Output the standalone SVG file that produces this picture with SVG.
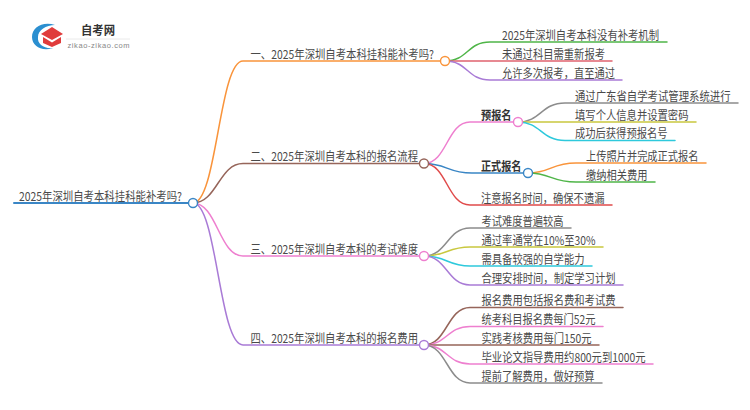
<svg xmlns="http://www.w3.org/2000/svg" width="750" height="410" viewBox="0 0 750 410">
<style>
text{font-family:"Noto Sans CJK SC","Liberation Sans",sans-serif;font-size:12.2px;fill:#4a4a4a}
.b{font-weight:700;fill:#333}
#connectors path{fill:none;stroke-width:1.5;stroke-linecap:round}
circle{fill:#fff;stroke-width:1.4}
.or{stroke:#f9943b}.br{stroke:#96655a}.pk{stroke:#ee7fcf}.pu{stroke:#a97bd6}.gn{stroke:#4fb548}.rd{stroke:#e0636f}.re{stroke:#e04b4b}.gy{stroke:#8c8c8c}.ol{stroke:#c9c83f}.cy{stroke:#2ec9dc}.bl{stroke:#3a86c5}
</style>
<g id="logo">
<path d="M55,25 C42,21 32,28 32,37 C32,46 42,52 53,48 C44,49 37,44 38,37 C38,30 46,25 55,25Z" fill="#2b8fd0"/>
<path d="M41,34 L52,27 L63,34 L52,40Z" fill="#e03c3c"/>
<path d="M43,37 L52,42.500 L61,37 L61,43 L52,47 L43,43Z" fill="#e03c3c"/>
<text x="81" y="35" class="b" style="font-size:12px" textLength="34" lengthAdjust="spacingAndGlyphs">自考网</text>
<path d="M66,39H130" stroke="#e4e4e4" stroke-width="0.8" fill="none"/>
<text x="67.500" y="48" style="font-size:7.500px;fill:#888;font-family:'Liberation Sans',sans-serif" textLength="62" lengthAdjust="spacing">zikao-zikao.com</text>
</g>
<g id="connectors">
<path class="bl" style="stroke-width:2" d="M14,203H193"/>
<path class="or" d="M193,203C217,203 219,61 243,61H445"/>
<path class="br" d="M193,203C217,203 219,163.500 243,163.500H424"/>
<path class="pk" d="M193,203C217,203 219,256 243,256H424"/>
<path class="pu" d="M193,203C217,203 219,345 243,345H424"/>
<path class="gn" d="M445,61C468,61 467,42 490,42H667"/>
<path class="rd" d="M445,61H612"/>
<path class="pu" d="M445,61C468,61 467,80 490,80H622"/>
<path class="pk" d="M424,163.500C447,163.500 447,122 470,122H518"/>
<path class="bl" d="M424,163.500C447,163.500 447,173 472,173H528"/>
<path class="re" d="M424,163.500C447,163.500 447,205 470,205H612"/>
<path class="gy" d="M518,122C541,122 541,103 565,103H738"/>
<path class="ol" d="M518,122H696"/>
<path class="cy" d="M518,122C541,122 541,140.500 565,140.500H675"/>
<path class="or" d="M528,173C551,173 551,163 576,163H706"/>
<path class="gn" d="M528,173C551,173 551,182 576,182H655"/>
<path class="gy" d="M424,256C447,256 447,228 470,228H571"/>
<path class="ol" d="M424,256C447,256 447,247 470,247H603"/>
<path class="cy" d="M424,256C447,256 447,266 470,266H592"/>
<path class="pu" d="M424,256C447,256 447,285 470,285H623"/>
<path class="br" d="M424,345C447,345 447,307.500 470,307.500H623"/>
<path class="pk" d="M424,345C447,345 447,326.500 470,326.500H603"/>
<path class="br" d="M424,345H599"/>
<path class="pk" d="M424,345C447,345 447,364 470,364H653"/>
<path class="gy" d="M424,345C447,345 447,383 470,383H602"/>
</g>
<g id="root"><text x="19" y="200.700" textLength="163" lengthAdjust="spacingAndGlyphs">2025年深圳自考本科挂科能补考吗?</text><circle class="bl" cx="193" cy="203" r="4.500"/></g>
<g id="b1"><text x="250.500" y="58.700" textLength="183.500" lengthAdjust="spacingAndGlyphs">一、2025年深圳自考本科挂科能补考吗?</text><circle class="or" cx="445" cy="61" r="4.500"/></g>
<g id="b2"><text x="250.500" y="161.200" textLength="167.500" lengthAdjust="spacingAndGlyphs">二、2025年深圳自考本科的报名流程</text><circle class="br" cx="424" cy="163.500" r="4.500"/></g>
<g id="b3"><text x="250.500" y="253.700" textLength="167.500" lengthAdjust="spacingAndGlyphs">三、2025年深圳自考本科的考试难度</text><circle class="pk" cx="424" cy="256" r="4.500"/></g>
<g id="b4"><text x="250.500" y="342.700" textLength="167.500" lengthAdjust="spacingAndGlyphs">四、2025年深圳自考本科的报名费用</text><circle class="pu" cx="424" cy="345" r="4.500"/></g>
<g id="n11"><text x="502" y="39.700" textLength="157" lengthAdjust="spacingAndGlyphs">2025年深圳自考本科没有补考机制</text></g>
<g id="n12"><text x="502" y="58.700" textLength="103" lengthAdjust="spacingAndGlyphs">未通过科目需重新报考</text></g>
<g id="n13"><text x="502" y="77.700" textLength="113" lengthAdjust="spacingAndGlyphs">允许多次报考，直至通过</text></g>
<g id="n21"><text x="481" y="119.700" class="b" textLength="30.500" lengthAdjust="spacingAndGlyphs">预报名</text><circle class="pk" cx="518" cy="122" r="4.500"/></g>
<g id="n22"><text x="481" y="170.700" class="b" textLength="40.500" lengthAdjust="spacingAndGlyphs">正式报名</text><circle class="bl" cx="528" cy="173" r="4.500"/></g>
<g id="n23"><text x="481" y="202.700" textLength="123.500" lengthAdjust="spacingAndGlyphs">注意报名时间，确保不遗漏</text></g>
<g id="n211"><text x="575" y="100.700" textLength="155.500" lengthAdjust="spacingAndGlyphs">通过广东省自学考试管理系统进行</text></g>
<g id="n212"><text x="575" y="119.700" textLength="113.500" lengthAdjust="spacingAndGlyphs">填写个人信息并设置密码</text></g>
<g id="n213"><text x="575" y="138.200" textLength="92.500" lengthAdjust="spacingAndGlyphs">成功后获得预报名号</text></g>
<g id="n221"><text x="586" y="160.700" textLength="112.500" lengthAdjust="spacingAndGlyphs">上传照片并完成正式报名</text></g>
<g id="n222"><text x="586" y="179.700" textLength="61.500" lengthAdjust="spacingAndGlyphs">缴纳相关费用</text></g>
<g id="n31"><text x="481.500" y="225.700" textLength="82" lengthAdjust="spacingAndGlyphs">考试难度普遍较高</text></g>
<g id="n32"><text x="481.500" y="244.700" textLength="114" lengthAdjust="spacingAndGlyphs">通过率通常在10%至30%</text></g>
<g id="n33"><text x="481.500" y="263.700" textLength="103" lengthAdjust="spacingAndGlyphs">需具备较强的自学能力</text></g>
<g id="n34"><text x="481.500" y="282.700" textLength="134" lengthAdjust="spacingAndGlyphs">合理安排时间，制定学习计划</text></g>
<g id="n41"><text x="481.500" y="305.200" textLength="134" lengthAdjust="spacingAndGlyphs">报名费用包括报名费和考试费</text></g>
<g id="n42"><text x="481.500" y="324.200" textLength="114" lengthAdjust="spacingAndGlyphs">统考科目报名费每门52元</text></g>
<g id="n43"><text x="481.500" y="342.700" textLength="110" lengthAdjust="spacingAndGlyphs">实践考核费用每门150元</text></g>
<g id="n44"><text x="481.500" y="361.700" textLength="164" lengthAdjust="spacingAndGlyphs">毕业论文指导费用约800元到1000元</text></g>
<g id="n45"><text x="481.500" y="380.700" textLength="113" lengthAdjust="spacingAndGlyphs">提前了解费用，做好预算</text></g>
</svg>
